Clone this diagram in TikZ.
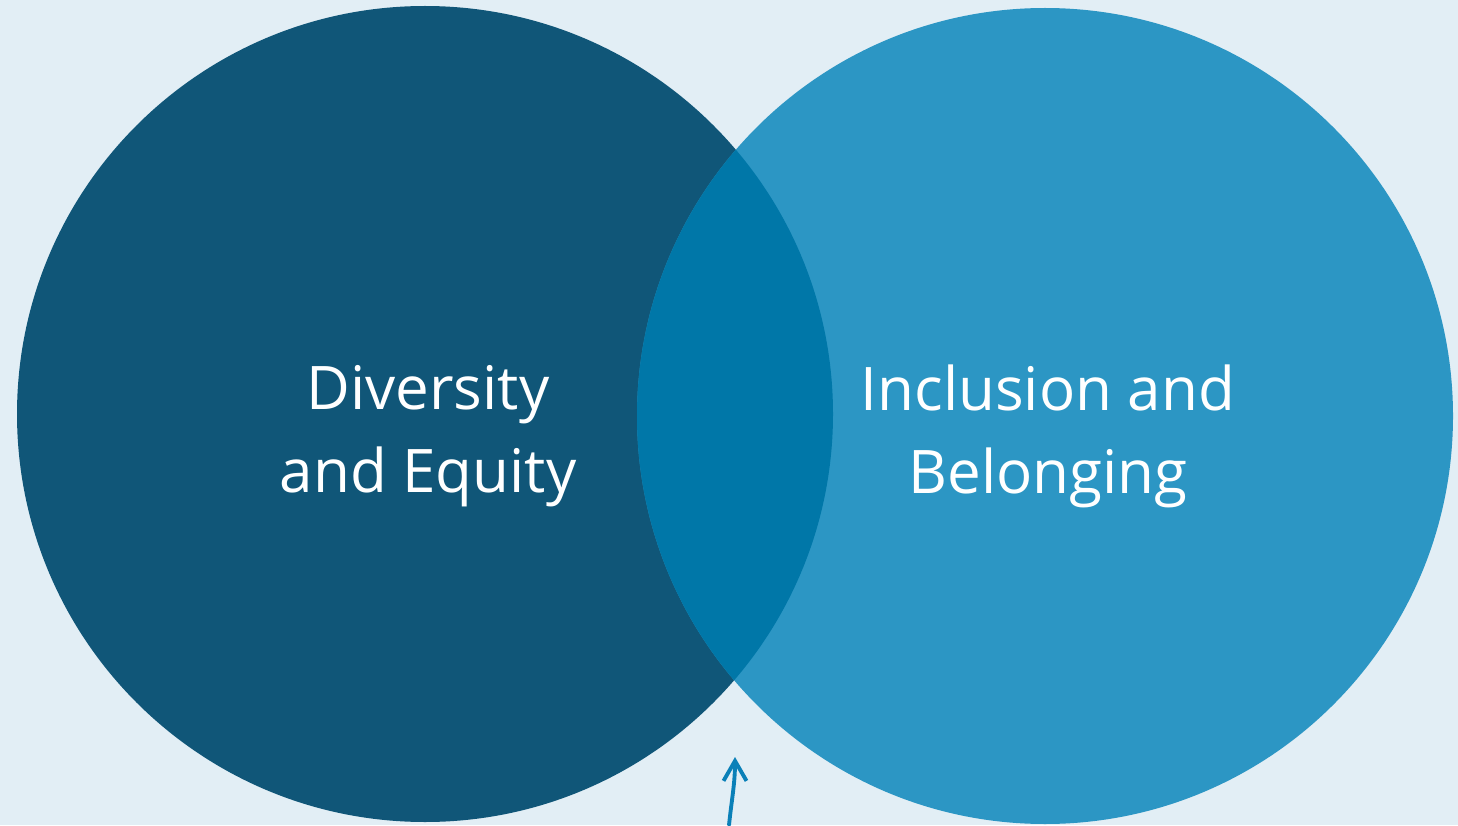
\documentclass[tikz,border=0pt]{standalone}
\usepackage{fontspec}
\setmainfont{Open Sans}
\usetikzlibrary{arrows.meta}

\definecolor{bgblue}{HTML}{E2EEF5}
\definecolor{deepblue}{HTML}{105678}
\definecolor{skyblue}{HTML}{2C96C4}
\definecolor{midblue}{HTML}{0077A8}
\definecolor{arrowblue}{HTML}{0A80B8}

\begin{document}
\begin{tikzpicture}[>={Straight Barb[length=2mm,width=2.3mm]}]
	\tikzset{label text/.style={white, align=center, font=\fontsize{17.1}{23.6}\selectfont}}
	\fill[bgblue] (0, 0) rectangle (14.58, 8.25);
	\useasboundingbox (0, 0) rectangle (14.58, 8.25);

	\fill[deepblue] (4.25, 4.11) circle [radius=4.08];
	\fill[skyblue] (10.45, 4.09) circle [radius=4.08];
	\begin{scope}
		\clip (4.25, 4.11) circle [radius=4.08];
		\fill[midblue] (10.45, 4.09) circle [radius=4.08];
	\end{scope}

	\node[label text] (diversity) at (4.28, 3.89) {Diversity\\and Equity};
	\node[label text] (inclusion) at (10.48, 3.89) {Inclusion and\\Belonging};

	\coordinate (tail) at (7.29, 0);
	\coordinate (tip) at (7.35, 0.68);
	\draw[arrowblue, line width=1.1pt, line cap=round, ->] (tail) to[out=84, in=-90] (tip);
\end{tikzpicture}
\end{document}
